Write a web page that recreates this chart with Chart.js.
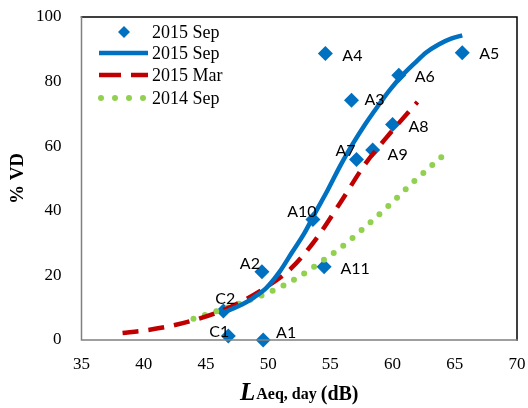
<!DOCTYPE html>
<html>
<head>
<meta charset="utf-8">
<script src="https://cdn.jsdelivr.net/npm/chart.js@4/dist/chart.umd.min.js"></script>
<style>
  html, body { margin: 0; padding: 0; background: #fff; }
  #wrap { position: relative; width: 528px; height: 408px; }
</style>
</head>
<body>
<div id="wrap"><canvas id="chart" width="528" height="408"></canvas></div>
<script>
// measured sites (2015 Sep)
const siteNames = ['A1', 'C1', 'C2', 'A2', 'A10', 'A11', 'A4', 'A5', 'A6', 'A3', 'A8', 'A9', 'A7'];
const siteLaeq = [49.6, 46.8, 46.4, 49.5, 53.6, 54.5, 54.6, 65.6, 60.5, 56.7, 60.0, 58.4, 57.1];
const siteVD = [0, 1.2, 9.0, 21.1, 37.3, 22.7, 88.7, 88.9, 82.0, 74.2, 66.7, 58.8, 55.9];

// fitted curves
const sep15X = [46.2, 46.9, 47.9, 48.9, 49.9, 50.9, 51.9, 52.9, 53.8, 54.8, 55.8, 56.8, 57.8, 58.8, 59.8, 60.8, 61.8, 62.7, 63.7, 64.7, 65.6];
const sep15Y = [8.3, 9.3, 11.0, 13.3, 16.3, 21, 27, 33, 39.5, 46.5, 54, 60.7, 66.8, 72.3, 77.5, 82, 85.8, 89, 91.5, 93.3, 94.3];
const mar15X = [38.3, 40, 42, 43.9, 45.9, 47.9, 49.9, 51.8, 53.8, 55.8, 57.8, 59.8, 62.0];
const mar15Y = [2.2, 2.9, 4.2, 6.0, 8.5, 12, 16.5, 22, 31, 42.5, 54.5, 64, 73.7];
const sep14X = [44.0, 45.9, 47.9, 49.9, 51.8, 53.8, 55.8, 57.8, 59.8, 61.7, 64.2];
const sep14Y = [6.6, 9.0, 11.5, 14.5, 18, 23, 28.5, 35, 42, 49, 57.6];

const xTicks = [35, 40, 45, 50, 55, 60, 65, 70];
const yTicks = [0, 20, 40, 60, 80, 100];

// label offsets from each diamond, px
const labelOffsets = [[23, -7], [-9, -4], [2, -12], [-12, -8], [-11, -8], [31, 2], [27, 2], [27, 1], [26, 2], [23, 0], [26, 2], [25, 5], [-11, -9]];

const pts = (xs, ys) => xs.map((x, i) => ({ x, y: ys[i] }));

const BLUE = '#0070C0', RED = '#C00000', GREEN = '#92D050';
const SERIF = '"Liberation Serif", "Times New Roman", serif';

// plot frame, point labels, legend and x title
const extras = {
  id: 'extras',
  afterDraw(chart) {
    const ctx = chart.ctx;
    const sx = chart.scales.x, sy = chart.scales.y;
    const L = sx.getPixelForValue(xTicks[0]);
    const R = sx.getPixelForValue(xTicks[xTicks.length - 1]);
    const T = sy.getPixelForValue(yTicks[yTicks.length - 1]);
    const B = sy.getPixelForValue(yTicks[0]);
    ctx.save();
    ctx.setLineDash([]);
    ctx.lineCap = 'square';
    ctx.lineWidth = 1.5;
    ctx.strokeStyle = '#000';
    ctx.beginPath();
    ctx.moveTo(L, T);
    ctx.lineTo(R, T);
    ctx.lineTo(R, B);
    ctx.stroke();
    ctx.strokeStyle = '#808080';
    ctx.beginPath();
    ctx.moveTo(L, T);
    ctx.lineTo(L, B);
    ctx.lineTo(R, B);
    ctx.stroke();

    // site labels
    const meta = chart.getDatasetMeta(0);
    ctx.font = '16px Lato, "Open Sans", sans-serif';
    ctx.fillStyle = '#000';
    ctx.textAlign = 'center';
    ctx.textBaseline = 'middle';
    meta.data.forEach((el, i) => {
      const o = labelOffsets[i];
      ctx.fillText(siteNames[i], el.x + o[0], el.y + o[1]);
    });

    // legend
    const rows = [32, 53, 75, 98];
    const x0 = 99, x1 = 148;
    ctx.font = '18px ' + SERIF;
    ctx.textAlign = 'left';
    chart.data.datasets.forEach((ds, i) => {
      const y = rows[i];
      if (i === 0) {
        ctx.fillStyle = BLUE;
        ctx.beginPath();
        ctx.moveTo(124, y - 6);
        ctx.lineTo(130, y);
        ctx.lineTo(124, y + 6);
        ctx.lineTo(118, y);
        ctx.closePath();
        ctx.fill();
      } else {
        ctx.strokeStyle = ds.borderColor;
        ctx.lineWidth = ds.borderWidth;
        ctx.lineCap = ds.borderCapStyle || 'butt';
        ctx.setLineDash(i === 2 ? [22, 10] : (i === 3 ? [0, 14] : []));
        ctx.beginPath();
        ctx.moveTo(i === 3 ? x0 + 2 : x0, y);
        ctx.lineTo(x1, y);
        ctx.stroke();
        ctx.setLineDash([]);
      }
      ctx.fillStyle = '#000';
      ctx.fillText(ds.label, 152, y + 1);
    });

    // x title: L Aeq, day (dB)
    ctx.textBaseline = 'alphabetic';
    let tx = 240;
    const by = 400;
    ctx.font = 'italic bold 25px ' + SERIF;
    ctx.fillText('L', tx, by);
    tx += ctx.measureText('L').width + 1;
    ctx.font = 'bold 16px ' + SERIF;
    ctx.fillText('Aeq, day', tx, by - 1);
    tx += ctx.measureText('Aeq, day ').width;
    ctx.font = 'bold 20px ' + SERIF;
    ctx.fillText('(dB)', tx, by);
    ctx.restore();
  }
};

new Chart(document.getElementById('chart'), {
  type: 'scatter',
  data: {
    datasets: [
      {
        label: '2015 Sep',
        data: pts(siteLaeq, siteVD),
        pointStyle: 'rectRot',
        pointRadius: 7.5,
        pointHoverRadius: 7.5,
        backgroundColor: BLUE,
        borderColor: BLUE,
        borderWidth: 0,
        clip: false,
        order: 1
      },
      {
        label: '2015 Sep',
        data: pts(sep15X, sep15Y),
        showLine: true,
        borderColor: BLUE,
        borderWidth: 4.5,
        pointRadius: 0,
        cubicInterpolationMode: 'monotone'
      },
      {
        label: '2015 Mar',
        data: pts(mar15X, mar15Y),
        showLine: true,
        borderColor: RED,
        borderWidth: 4.5,
        borderDash: [16, 10],
        pointRadius: 0,
        cubicInterpolationMode: 'monotone'
      },
      {
        label: '2014 Sep',
        data: pts(sep14X, sep14Y),
        showLine: true,
        borderColor: GREEN,
        borderWidth: 6,
        borderDash: [0, 12],
        borderCapStyle: 'round',
        pointRadius: 0,
        cubicInterpolationMode: 'monotone'
      }
    ]
  },
  options: {
    responsive: false,
    animation: false,
    layout: { padding: { top: 17, right: 11, left: 0, bottom: 0 } },
    plugins: { legend: { display: false }, tooltip: { enabled: false } },
    scales: {
      x: {
        type: 'linear',
        min: 35,
        max: 70,
        afterBuildTicks: s => { s.ticks = xTicks.map(v => ({ value: v })); },
        afterFit: s => { s.height = 68; s.paddingLeft = 0; s.paddingRight = 0; },
        grid: { display: false, drawTicks: false },
        border: { display: false },
        ticks: { color: '#000', font: { family: SERIF, size: 17 }, padding: 14 }
      },
      y: {
        min: 0,
        max: 100,
        afterBuildTicks: s => { s.ticks = yTicks.map(v => ({ value: v })); },
        afterFit: s => { s.width = 81.5; s.paddingTop = 0; s.paddingBottom = 0; },
        grid: { display: false, drawTicks: false },
        border: { display: false },
        ticks: { color: '#000', font: { family: SERIF, size: 17 }, padding: 20 },
        title: { display: true, text: '% VD', color: '#000', font: { family: SERIF, size: 19, weight: 'bold' }, padding: { top: 7, bottom: 0 } }
      }
    }
  },
  plugins: [extras]
});
</script>
</body>
</html>
